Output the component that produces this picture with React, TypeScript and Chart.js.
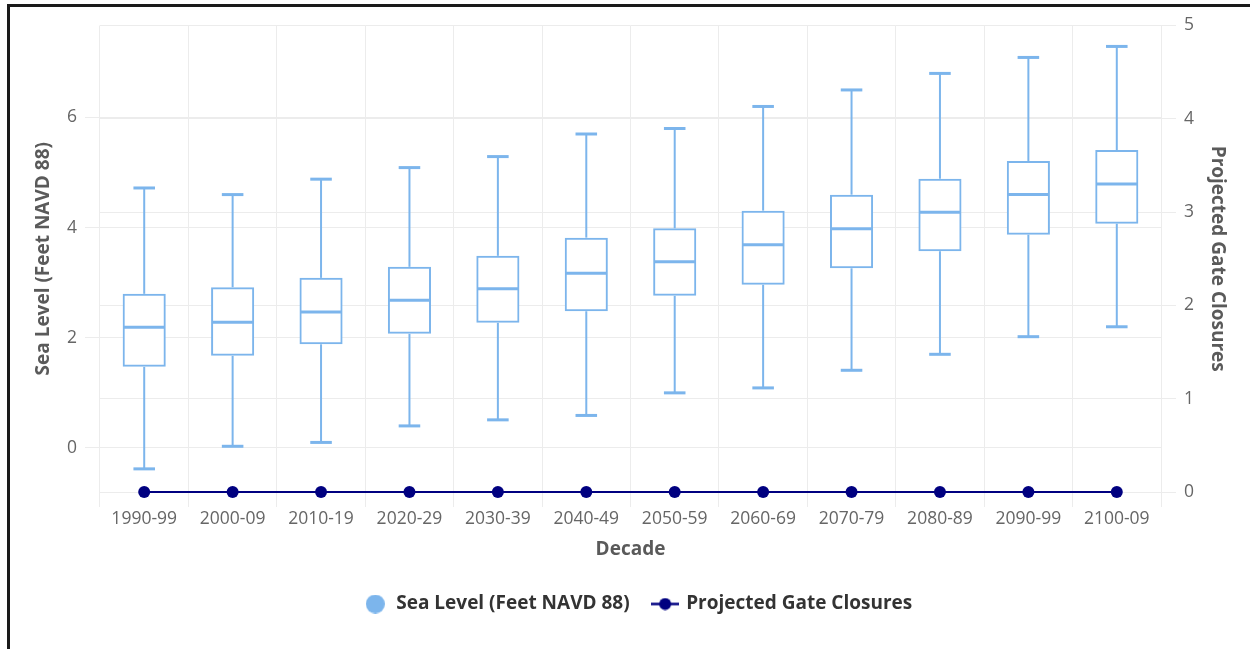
import React, { useEffect, useRef } from 'react';
import { Chart, registerables } from 'chart.js';

Chart.register(...registerables);

// ---- data ----
const decades = ['1990-99', '2000-09', '2010-19', '2020-29', '2030-39', '2040-49', '2050-59', '2060-69', '2070-79', '2080-89', '2090-99', '2100-09'];
const seaLow = [-0.38, 0.03, 0.1, 0.4, 0.51, 0.59, 1.0, 1.09, 1.41, 1.7, 2.02, 2.2];
const seaQ1 = [1.49, 1.69, 1.9, 2.09, 2.29, 2.5, 2.78, 2.98, 3.28, 3.59, 3.89, 4.09];
const seaMedian = [2.19, 2.28, 2.47, 2.68, 2.89, 3.17, 3.38, 3.69, 3.98, 4.28, 4.6, 4.79];
const seaQ3 = [2.78, 2.9, 3.07, 3.27, 3.47, 3.8, 3.97, 4.29, 4.58, 4.87, 5.19, 5.39];
const seaHigh = [4.72, 4.6, 4.88, 5.09, 5.29, 5.7, 5.8, 6.2, 6.5, 6.8, 7.09, 7.29];
const gateClosures = [0, 0, 0, 0, 0, 0, 0, 0, 0, 0, 0, 0];

const seaTicks = [0, 2, 4, 6];
const gateTicks = [0, 1, 2, 3, 4, 5];

const seaLabel = 'Sea Level (Feet NAVD 88)';
const gateLabel = 'Projected Gate Closures';

const BOX_COLOR = '#7cb5ec';
const GATE_COLOR = '#000080';
const GRID_COLOR = '#ececec';
const TICK_COLOR = '#666666';
const TITLE_COLOR = '#5a5a5a';
const LEGEND_COLOR = '#333333';
const FONT = 'Open Sans';

const boxPlotPlugin = {
  id: 'boxWhiskers',
  afterDatasetsDraw(chart: any) {
    const { ctx } = chart;
    const x = chart.scales.x;
    const y = chart.scales.y;
    const meta = chart.getDatasetMeta(0);
    ctx.save();
    ctx.strokeStyle = BOX_COLOR;
    ctx.lineCap = 'butt';
    const seg = (x1: number, y1: number, x2: number, y2: number, w: number) => {
      ctx.lineWidth = w;
      ctx.beginPath();
      ctx.moveTo(x1, y1);
      ctx.lineTo(x2, y2);
      ctx.stroke();
    };
    decades.forEach((_, i) => {
      const bar = meta.data[i];
      const cx = x.getPixelForValue(i);
      const half = bar.width / 2 + 1;
      const yLow = y.getPixelForValue(seaLow[i]);
      const yQ1 = y.getPixelForValue(seaQ1[i]);
      const yMed = y.getPixelForValue(seaMedian[i]);
      const yQ3 = y.getPixelForValue(seaQ3[i]);
      const yHigh = y.getPixelForValue(seaHigh[i]);
      seg(cx, yQ3 - 1, cx, yHigh, 2);
      seg(cx, yQ1 + 1, cx, yLow, 2);
      seg(cx - half / 2, yHigh, cx + half / 2, yHigh, 3);
      seg(cx - half / 2, yLow, cx + half / 2, yLow, 3);
      seg(cx - half + 1, yMed, cx + half - 1, yMed, 3);
    });
    ctx.restore();
  },
};

// shifts the legend row slightly to match the reference's centring
const legendShiftPlugin = {
  id: 'legendShift',
  afterLayout(chart: any) {
    if (chart.legend) {
      chart.legend.left += 8;
      chart.legend.right += 8;
    }
  },
};

function makeSeaIcon() {
  const c = document.createElement('canvas');
  c.width = 19;
  c.height = 19;
  const g = c.getContext('2d')!;
  g.fillStyle = BOX_COLOR;
  g.beginPath();
  g.arc(9.5, 9.5, 9.5, 0, Math.PI * 2);
  g.fill();
  return c;
}

function makeGateIcon() {
  const c = document.createElement('canvas');
  c.width = 28;
  c.height = 13;
  const g = c.getContext('2d')!;
  g.strokeStyle = GATE_COLOR;
  g.lineWidth = 2.5;
  g.beginPath();
  g.moveTo(0, 6.5);
  g.lineTo(28, 6.5);
  g.stroke();
  g.fillStyle = GATE_COLOR;
  g.beginPath();
  g.arc(14, 6.5, 6, 0, Math.PI * 2);
  g.fill();
  return c;
}

export default function App() {
  const ref = useRef<HTMLCanvasElement>(null);

  useEffect(() => {
    if (!ref.current) return;
    const seaIcon = makeSeaIcon();
    const gateIcon = makeGateIcon();
    const boldFont = { family: FONT, size: 19, weight: 'bold' };
    const tickFont = { family: FONT, size: 17.5 };
    const chart = new Chart(ref.current, {
      type: 'bar',
      data: {
        labels: decades,
        datasets: [
          {
            type: 'bar',
            label: seaLabel,
            data: decades.map((_, i) => [seaQ1[i], seaQ3[i]]) as any,
            backgroundColor: '#ffffff',
            borderColor: BOX_COLOR,
            borderWidth: 2,
            borderSkipped: false,
            inflateAmount: 1,
            barPercentage: 0.465,
            categoryPercentage: 1,
            yAxisID: 'y',
            order: 2,
          } as any,
          {
            type: 'line',
            label: gateLabel,
            data: gateClosures,
            borderColor: GATE_COLOR,
            backgroundColor: GATE_COLOR,
            borderWidth: 2,
            pointRadius: 6,
            pointBackgroundColor: GATE_COLOR,
            pointBorderWidth: 0,
            yAxisID: 'y1',
            clip: false,
            order: 1,
          } as any,
        ],
      },
      options: {
        responsive: false,
        animation: false,
        layout: { padding: { top: 15, left: 0, right: 0, bottom: 25.5 } },
        plugins: {
          tooltip: { enabled: false },
          legend: {
            position: 'bottom',
            labels: {
              usePointStyle: true,
              pointStyleWidth: 23,
              padding: 24,
              color: LEGEND_COLOR,
              font: boldFont,
              generateLabels: () => [
                { text: seaLabel, pointStyle: seaIcon, fillStyle: BOX_COLOR, strokeStyle: BOX_COLOR, lineWidth: 0, hidden: false, datasetIndex: 0, fontColor: LEGEND_COLOR } as any,
                { text: gateLabel, pointStyle: gateIcon, fillStyle: GATE_COLOR, strokeStyle: GATE_COLOR, lineWidth: 0, hidden: false, datasetIndex: 1, fontColor: LEGEND_COLOR } as any,
              ],
            },
          },
        },
        scales: {
          x: {
            type: 'category',
            offset: true,
            grid: { offset: true, color: GRID_COLOR, lineWidth: 1, drawTicks: true, tickLength: 15, tickColor: GRID_COLOR },
            border: { display: false },
            ticks: { color: TICK_COLOR, font: tickFont, padding: 2, maxRotation: 0, autoSkip: false },
            title: { display: true, text: 'Decade', color: TITLE_COLOR, font: boldFont, padding: { top: 0, bottom: 9.1 } },
            afterFit: (s: any) => { s.height = 78.5; },
          },
          y: {
            type: 'linear',
            position: 'left',
            min: -0.8,
            max: 7.67,
            afterBuildTicks: (s: any) => { s.ticks = seaTicks.map((v) => ({ value: v })); },
            grid: { color: GRID_COLOR, drawTicks: true, tickLength: 15, tickColor: GRID_COLOR },
            border: { display: false },
            ticks: { color: TICK_COLOR, font: tickFont, padding: 8 },
            title: { display: true, text: seaLabel, color: TITLE_COLOR, font: boldFont, padding: { top: 22.6, bottom: 0 } },
            afterFit: (s: any) => { s.width = 90; },
          },
          y1: {
            type: 'linear',
            position: 'right',
            min: 0,
            max: 5,
            afterBuildTicks: (s: any) => { s.ticks = gateTicks.map((v) => ({ value: v })); },
            grid: { color: GRID_COLOR, drawTicks: true, tickLength: 15, tickColor: GRID_COLOR },
            border: { display: false },
            ticks: { color: TICK_COLOR, font: tickFont, padding: 8 },
            title: { display: true, text: gateLabel, color: TITLE_COLOR, font: boldFont, padding: { top: 21.6, bottom: 0 } },
            afterFit: (s: any) => { s.width = 89; },
          },
        },
      } as any,
      plugins: [boxPlotPlugin, legendShiftPlugin],
    });
    return () => chart.destroy();
  }, []);

  return (
    <div
      style={{
        position: 'fixed',
        left: 7,
        top: 4,
        width: 1260,
        height: 660,
        border: '3px solid #1a1a1a',
        background: '#ffffff',
        overflow: 'hidden',
      }}
    >
      <canvas ref={ref} width={1240} height={642} style={{ display: 'block' }} />
    </div>
  );
}
